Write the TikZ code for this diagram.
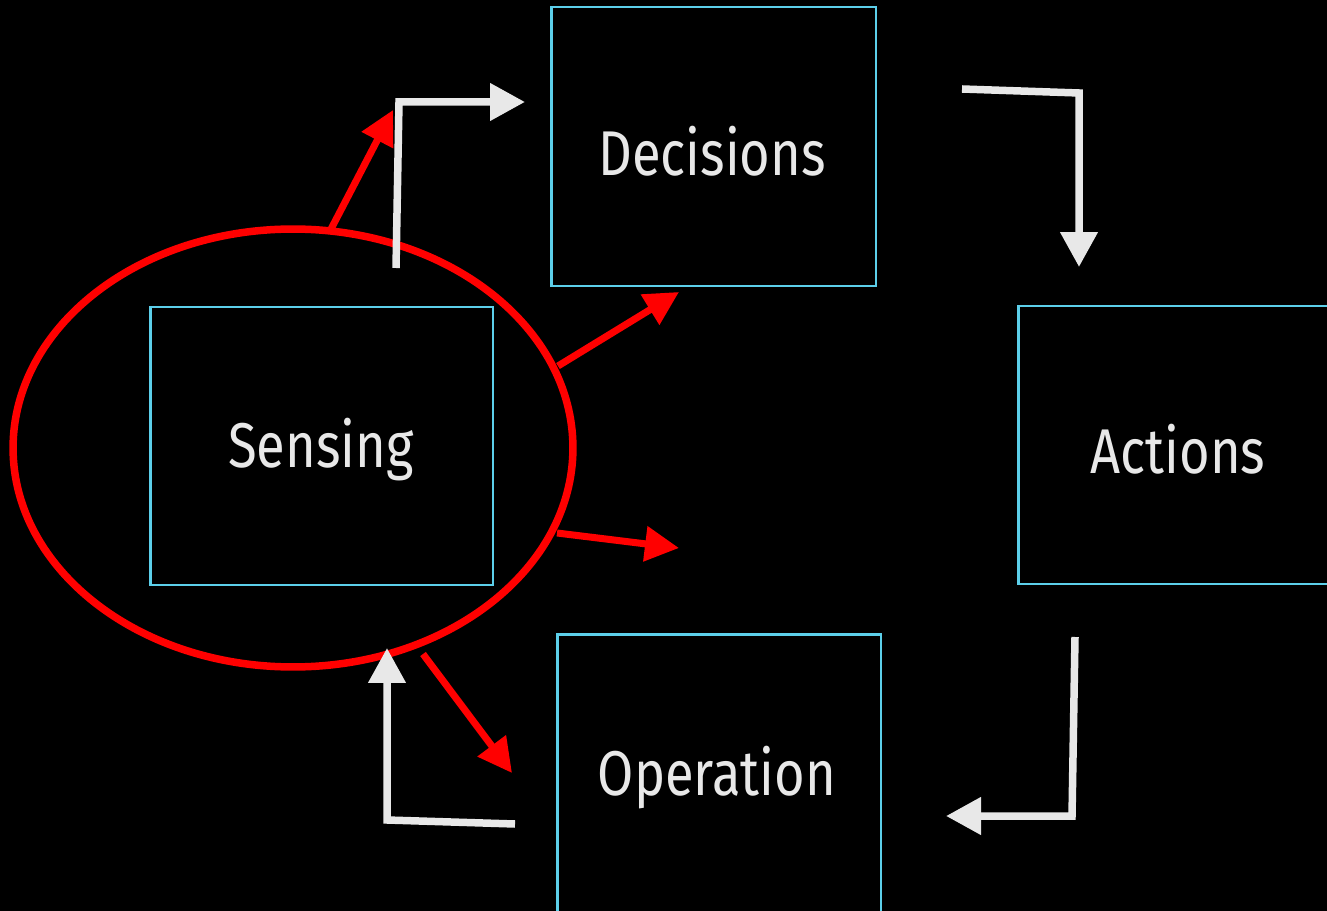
\documentclass[tikz,border=0pt]{standalone}
\usepackage{fontspec}
\setmainfont{Fira Sans}[FakeStretch=0.83]
\usetikzlibrary{arrows.meta,shapes.geometric}
\definecolor{boxcyan}{HTML}{5CCFEA}
\definecolor{arrwhite}{HTML}{E8E8E8}
\definecolor{arrred}{HTML}{FF0000}
\tikzset{
  stagebox/.style={draw=boxcyan, line width=0.05cm, fill=black, inner sep=0pt},
  stagelabel/.style={text=arrwhite, font=\fontsize{36}{40}\selectfont},
  flowarrow/.style={draw=arrwhite, line width=0.15cm, -{Triangle[length=0.7cm,width=0.72cm]}},
  redarrow/.style={draw=arrred, line width=0.14cm, -{Triangle[length=0.68cm,width=0.68cm]}},
  focusring/.style={draw=arrred, line width=0.15cm}
}
\begin{document}
\begin{tikzpicture}[x=0.02cm,y=-0.02cm]
\useasboundingbox (0,0) rectangle (1327,911);
\fill[black] (0,0) rectangle (1327,911);
\begin{scope}
\clip (0,0) rectangle (1327,911);
\node[stagebox, minimum width=6.5cm, minimum height=5.58cm, anchor=north west] (dec) at (550,6) {};
\node[stagebox, minimum width=6.86cm, minimum height=5.56cm, anchor=north west] (sen) at (149,306) {};
\node[stagebox, minimum width=6.4cm, minimum height=5.56cm, anchor=north west] (act) at (1017,305) {};
\node[stagebox, minimum width=6.48cm, minimum height=5.6cm, anchor=north west] (ope) at (556,633) {};
\end{scope}
\node[stagelabel] (tdec) at (712,151) {Decisions};
\node[stagelabel] (tsen) at (321,450) {Sensing};
\node[stagelabel] (tact) at (1178,449) {Actions};
\node[stagelabel] (tope) at (717,778) {Operation};
% focus ellipse
\node[focusring, ellipse, minimum width=11.2cm, minimum height=8.76cm, inner sep=0pt] (ring) at (293,448) {};
% white flow arrows
\coordinate (w1a) at (396,268); \coordinate (w1b) at (399,102); \coordinate (w1c) at (525,102);
\coordinate (w2a) at (962,89); \coordinate (w2b) at (1079,93); \coordinate (w2c) at (1079,267);
\coordinate (w3a) at (1075,637); \coordinate (w3b) at (1072,816); \coordinate (w3c) at (946,816);
\coordinate (w4a) at (515,824); \coordinate (w4b) at (387,820); \coordinate (w4c) at (387,648);
\draw[flowarrow] (w1a) -- (w1b) -- (w1c);
\draw[flowarrow] (w2a) -- (w2b) -- (w2c);
\draw[flowarrow] (w3a) -- (w3b) -- (w3c);
\draw[flowarrow] (w4a) -- (w4b) -- (w4c);
% red arrows
\coordinate (r1a) at (330,231); \coordinate (r1b) at (393,110);
\coordinate (r2a) at (558,366); \coordinate (r2b) at (679,292);
\coordinate (r3a) at (557,533); \coordinate (r3b) at (679,548);
\coordinate (r4a) at (423,654); \coordinate (r4b) at (512,773);
\draw[redarrow] (r1a) -- (r1b);
\draw[redarrow] (r2a) -- (r2b);
\draw[redarrow] (r3a) -- (r3b);
\draw[redarrow] (r4a) -- (r4b);
\end{tikzpicture}
\end{document}
